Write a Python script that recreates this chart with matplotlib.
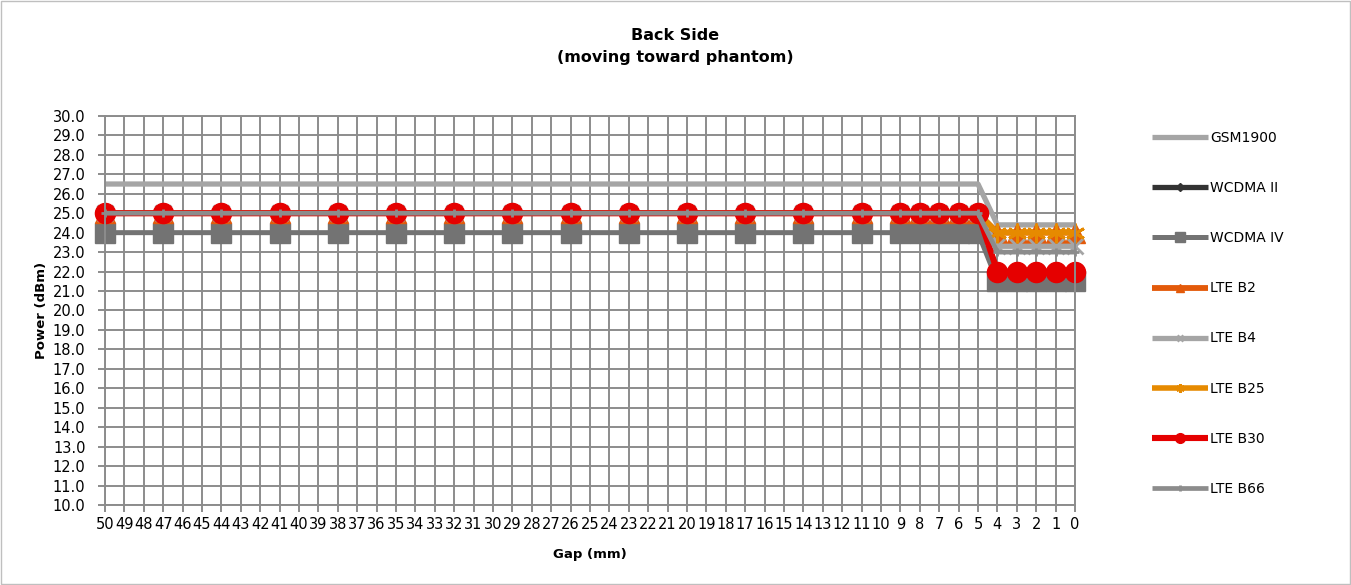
import matplotlib
matplotlib.use("Agg")
import matplotlib.pyplot as plt
from matplotlib.patches import Rectangle

# the reference text is wide (stretched), DejaVu Sans is the closest wide face
plt.rcParams['font.family'] = ['DejaVu Sans']

# gap positions that carry a data point (every 3 mm down to 11, then every mm)
gap = [50, 47, 44, 41, 38, 35, 32, 29, 26, 23, 20, 17, 14, 11,
       9, 8, 7, 6, 5, 4, 3, 2, 1, 0]

# power in dBm, 19 points before the step (gap >= 5) and 5 after (gap <= 4)
gsm1900 = [26.5] * 19 + [24.4] * 5
wcdma_ii = [25.0] * 19 + [22.0] * 5
wcdma_iv = [24.0] * 19 + [21.5] * 5
lte_b2 = [25.0] * 19 + [24.0] * 5
lte_b4 = [25.0] * 19 + [23.3] * 5
lte_b25 = [25.0] * 19 + [24.0] * 5
lte_b30 = [25.0] * 19 + [22.0] * 5
lte_b66 = [25.0] * 19 + [23.0] * 5

gap_ticks = list(range(50, -1, -1))
power_ticks = [10.0 + i for i in range(21)]

# label, values, colour, marker, plot marker size, legend marker size, line width
series = [
    ("GSM1900", gsm1900, "#A5A5A5", "None", 0, 0, 3.8),
    ("WCDMA II", wcdma_ii, "#333333", "D", 6, 4.5, 3.8),
    ("WCDMA IV", wcdma_iv, "#737373", "s", 14.5, 6.5, 3.6),
    ("LTE B2", lte_b2, "#E35A0A", "^", 14, 6, 4.2),
    ("LTE B4", lte_b4, "#A5A5A5", "x", 11, 5, 3.8),
    ("LTE B25", lte_b25, "#E68A00", (6, 2, 0), 14, 6, 4.0),
    ("LTE B30", lte_b30, "#E50000", "o", 14.5, 7, 4.4),
    ("LTE B66", lte_b66, "#8C8C8C", "+", 6, 4, 3.4),
]

fig = plt.figure(figsize=(13.51, 5.85), dpi=100)
ax = fig.add_axes([0.0777, 0.1368, 0.718, 0.665])

legend_sizes = []
for label, vals, col, mk, ms, lms, lw in series:
    ax.plot(gap, vals, color=col, lw=lw, marker=mk, markersize=ms,
            markerfacecolor=col, markeredgecolor=col,
            markeredgewidth=2 if mk in ("x", "+", (6, 2, 0)) else 1,
            label=label, clip_on=False, solid_capstyle="butt")
    legend_sizes.append(lms)

ax.set_xlim(50, 0)
ax.set_ylim(10, 30)
ax.set_xticks(gap_ticks)
ax.set_xticklabels([str(g) for g in gap_ticks])
ax.set_yticks(power_ticks)
ax.set_yticklabels(["%.1f" % p for p in power_ticks])

ax.grid(True, color="#8C8C8C", lw=1.4)
ax.set_axisbelow(True)
for s in ax.spines.values():
    s.set_color("#8C8C8C")
    s.set_linewidth(1.4)
ax.tick_params(axis="both", direction="out", length=5, color="#8C8C8C",
               width=1.4, labelsize=10.5)
ax.tick_params(axis="x", pad=4)
ax.tick_params(axis="y", pad=9)

ax.set_xlabel("Gap (mm)", fontsize=9.5, fontweight="bold", labelpad=11)
ax.set_ylabel("Power (dBm)", fontsize=9.5, fontweight="bold", labelpad=3)

fig.text(0.5, 0.939, "Back Side", ha="center", va="center",
         fontsize=11.5, fontweight="bold")
fig.text(0.5, 0.902, "(moving toward phantom)", ha="center", va="center",
         fontsize=11.5, fontweight="bold")

leg = fig.legend(loc="upper left", bbox_to_anchor=(0.8527, 0.776),
                 frameon=False, fontsize=10, handlelength=4.0,
                 handletextpad=0.2, labelspacing=2.6, borderpad=0,
                 borderaxespad=0)
for h, lms in zip(leg.legend_handles, legend_sizes):
    h.set_markersize(lms)

# light outer border like the chart area frame
fig.patches.append(Rectangle((0.001, 0.002), 0.998, 0.996, transform=fig.transFigure,
                             fill=False, edgecolor="#BFBFBF", lw=1))

fig.savefig("out.png", dpi=100)
